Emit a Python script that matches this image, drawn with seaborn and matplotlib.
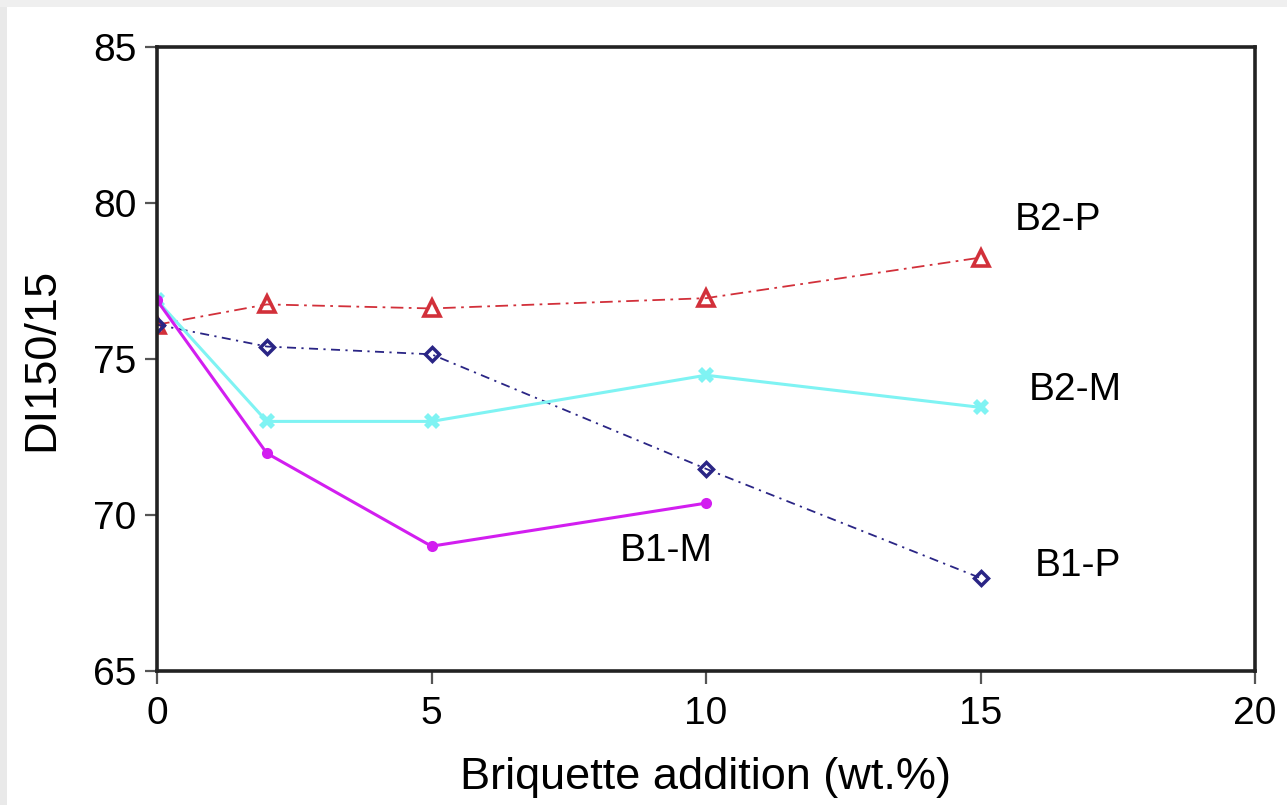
import matplotlib
matplotlib.use("Agg")
import matplotlib.pyplot as plt
import seaborn as sns
import pandas as pd
from matplotlib.patches import Rectangle

# Briquette addition levels (wt.%) and DI150/15 drum index per blend
x_levels = [0, 2, 5, 10, 15]
b2p = [76.1, 76.75, 76.62, 76.95, 78.25]
b1p = [76.1, 75.4, 75.15, 71.48, 67.98]
b2m = [76.88, 73.0, 73.0, 74.48, 73.45]
b1m_x = [0, 2, 5, 10]
b1m = [76.88, 71.98, 69.0, 70.38]

series_names = ["B2-P", "B1-P", "B2-M", "B1-M"]

sns.set_theme(style="white")
plt.rcParams["font.family"] = ["Liberation Sans", "DejaVu Sans"]
plt.rcParams["text.color"] = "black"
plt.rcParams["axes.labelcolor"] = "black"
plt.rcParams["xtick.labelcolor"] = "black"
plt.rcParams["ytick.labelcolor"] = "black"

fig = plt.figure(figsize=(12.87, 8.05), dpi=100)
fig.patch.set_facecolor("white")
# thin grey page margin along the left and top edges
fig.patches.append(Rectangle((0, 0), 7 / 1287, 1, transform=fig.transFigure,
                             facecolor="#e9e9e9", edgecolor="none", zorder=0))
fig.patches.append(Rectangle((0, 1 - 7 / 805), 1, 7 / 805, transform=fig.transFigure,
                             facecolor="#efefef", edgecolor="none", zorder=0))
ax = fig.add_axes([157 / 1287, 1 - 671 / 805, (1255 - 157) / 1287, (671 - 47) / 805])
ax.set_zorder(2)

frames = {
    "B2-P": pd.DataFrame({"x": x_levels, "y": b2p}),
    "B1-P": pd.DataFrame({"x": x_levels, "y": b1p}),
    "B2-M": pd.DataFrame({"x": x_levels, "y": b2m}),
    "B1-M": pd.DataFrame({"x": b1m_x, "y": b1m}),
}
styles = {
    "B2-P": dict(color="#d2303a", marker="^", dashes=(7, 3, 1.5, 3), lw=1.3,
                 ms=11, mfc="none", mew=2.6),
    "B1-P": dict(color="#2a2585", marker="D", dashes=(5, 3, 1.2, 3), lw=1.3,
                 ms=7.5, mfc="none", mew=2.5),
    "B2-M": dict(color="#7ff3f3", marker="X", dashes=None, lw=2.2,
                 ms=11, mfc="#7ff3f3", mew=0),
    "B1-M": dict(color="#d21ef0", marker="o", dashes=None, lw=2.2,
                 ms=8, mfc="#d21ef0", mew=0),
}

for name in series_names:
    st = styles[name]
    sns.lineplot(data=frames[name], x="x", y="y", ax=ax, color=st["color"],
                 marker=st["marker"], markersize=st["ms"],
                 markerfacecolor=st["mfc"], markeredgecolor=st["color"],
                 markeredgewidth=st["mew"], linewidth=st["lw"], legend=False)
    if st["dashes"] is not None:
        ax.lines[-1].set_dashes(st["dashes"])

label_pos = {"B2-P": (15.63, 79.45), "B2-M": (15.87, 74.0), "B1-P": (15.99, 68.35), "B1-M": (8.43, 68.85)}
for name in series_names:
    ax.text(*label_pos[name], name, fontsize=28, color="black", ha="left", va="center")

ax.set_xlim(0, 20)
ax.set_ylim(65, 85)
ax.set_xticks([0, 5, 10, 15, 20])
ax.set_yticks([65, 70, 75, 80, 85])
ax.tick_params(axis="both", direction="out", length=9, width=1.6, color="#555555",
               labelsize=28, pad=6, bottom=True, left=True)
ax.tick_params(axis="x", pad=9)
for sp in ax.spines.values():
    sp.set_color("#222222")
    sp.set_linewidth(2.6)
ax.set_xlabel("Briquette addition (wt.%)", fontsize=32.5, labelpad=18)
ax.set_ylabel("DI150/15", fontsize=32.5, labelpad=22)

fig.savefig("out.png", dpi=100, facecolor=fig.get_facecolor())
